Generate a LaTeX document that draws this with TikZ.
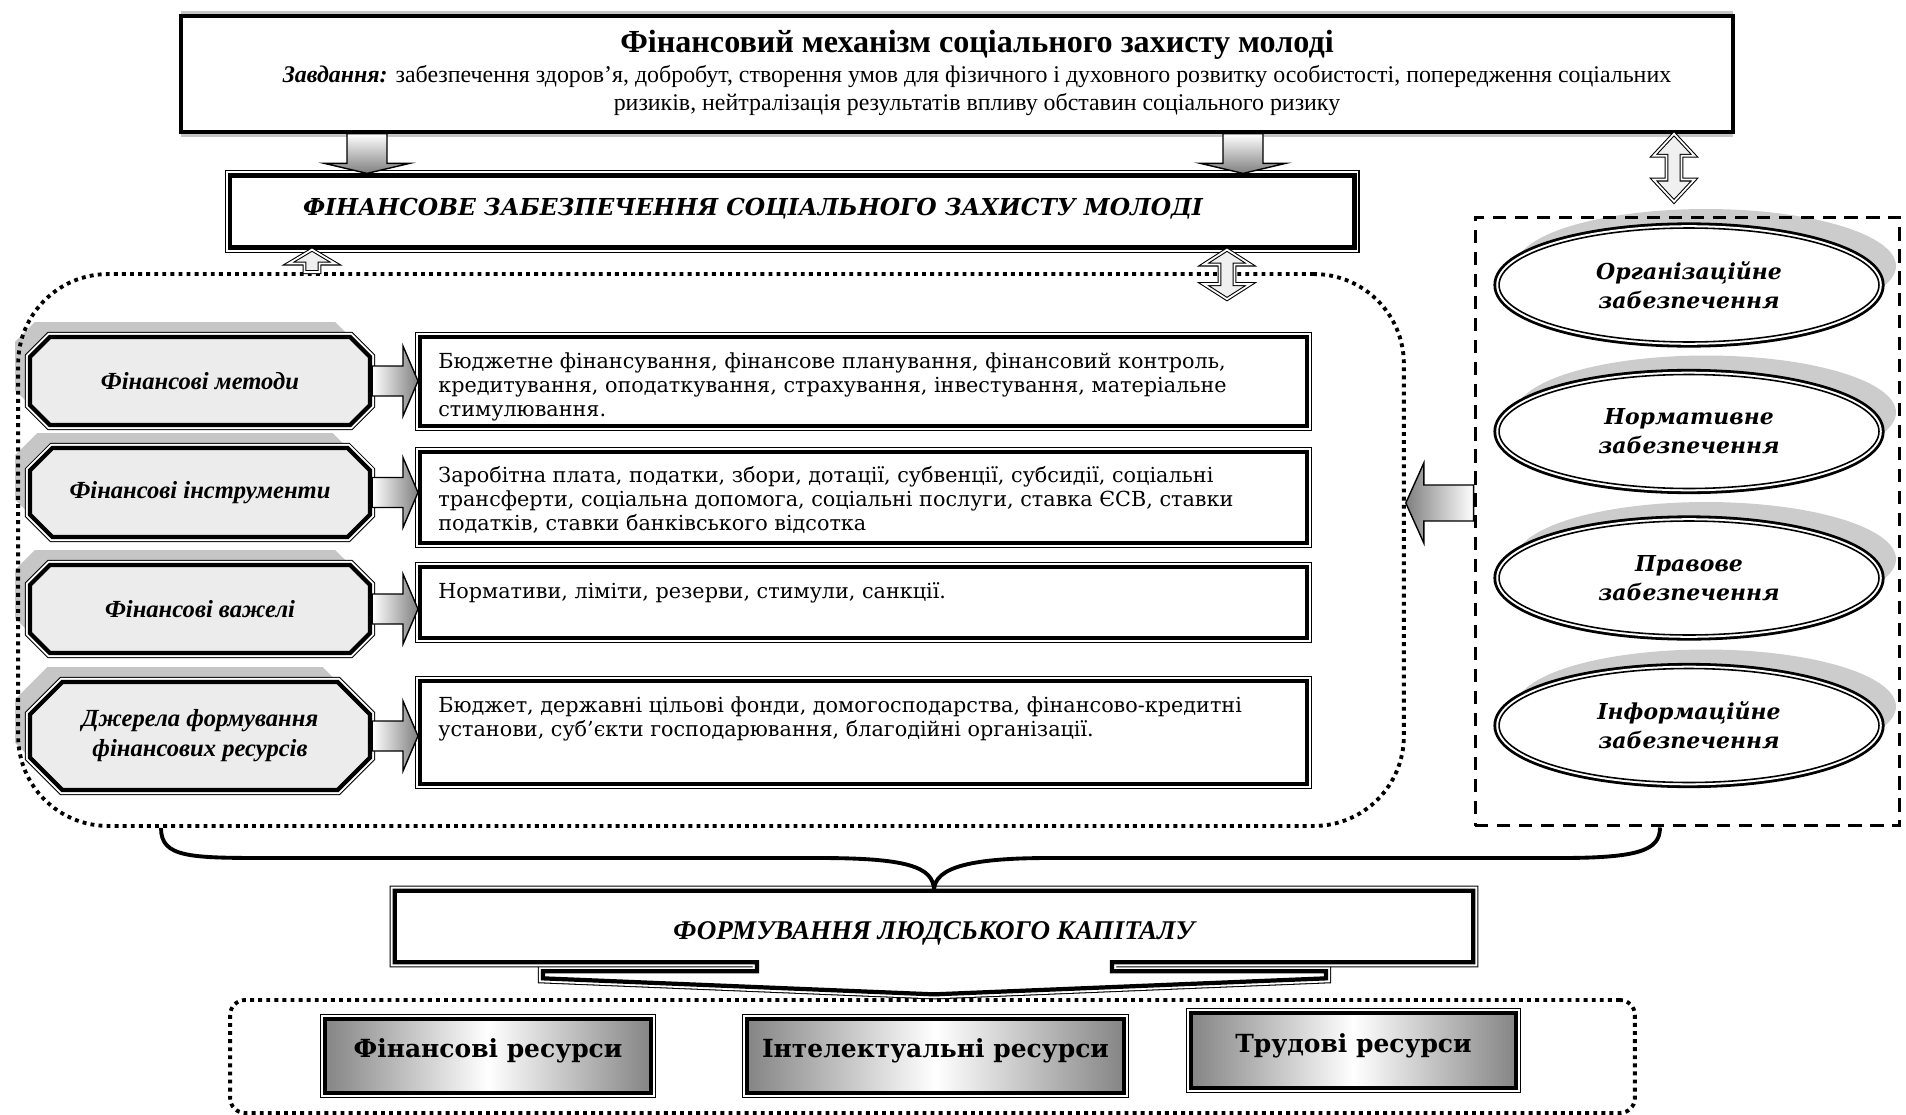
\documentclass[tikz,border=0pt]{standalone}
\usepackage{fontspec}
\setmainfont{Liberation Serif}
\newfontfamily\bookfont{DejaVu Serif}
\usetikzlibrary{calc,shapes.misc,shapes.geometric,backgrounds}

\begin{document}
\begin{tikzpicture}[>=latex, x=0.02cm, y=-0.02cm,
  rahmen/.style={preaction={draw, line width=5.8pt}, preaction={draw=white, line width=4.6pt}, fill=white, draw, line width=2.4pt},
  ovalrahmen/.style={preaction={fill=gray!40, transform canvas={shift={(0.34cm,0.38cm)}}}, preaction={draw, line width=6.4pt}, preaction={draw=white, line width=3.2pt}, fill=white, draw, line width=0.9pt},
  achteck/.style={chamfered rectangle, chamfered rectangle xsep=0.54cm, preaction={fill=gray!45, transform canvas={shift={(-0.3cm,0.3cm)}}}, rahmen, fill=gray!15, minimum width=6.8cm, align=center, font=\bfseries\itshape\fontsize{14}{17}\selectfont},
  textkasten/.style={rectangle, rahmen, minimum width=17.74cm},
  fliess/.style={anchor=north west, inner sep=0pt, align=left, font=\bookfont\fontsize{11.8}{13.7}\selectfont},
  oval/.style={ellipse, ovalrahmen, minimum width=7.6cm, minimum height=2.28cm, inner sep=0pt, align=center, font=\bookfont\bfseries\itshape\fontsize{12.5}{16.4}\selectfont},
  ressource/.style={rahmen, left color=black!48, right color=black!48, middle color=white, minimum height=1.48cm, text depth=0.3cm, font=\bookfont\bfseries\fontsize{14.2}{16}\selectfont},
  punktiert/.style={draw, line width=2.2pt, dash pattern=on 2.2pt off 2.4pt},
  pfeilgrau/.style={draw, line width=0.8pt, line join=miter},
  hohl/.style={draw, double, double distance=1pt, line width=0.6pt, fill=gray!12, line join=miter},
  pfeilform/.style args={#1/#2/#3}{to path={
    ($(\tikztostart)!#1!90:(\tikztotarget)$)
    -- ($(\tikztotarget)!#3!(\tikztostart)!#1!90:(\tikztotarget)$)
    -- ($(\tikztotarget)!#3!(\tikztostart)!#2!90:(\tikztotarget)$)
    -- (\tikztotarget)
    -- ($(\tikztotarget)!#3!(\tikztostart)!#2!-90:(\tikztotarget)$)
    -- ($(\tikztotarget)!#3!(\tikztostart)!#1!-90:(\tikztotarget)$)
    -- ($(\tikztostart)!#1!-90:(\tikztotarget)$) -- cycle}},
  doppelform/.style args={#1/#2/#3}{to path={
    (\tikztostart)
    -- ($(\tikztostart)!#3!(\tikztotarget)!#2!90:(\tikztotarget)$)
    -- ($(\tikztostart)!#3!(\tikztotarget)!#1!90:(\tikztotarget)$)
    -- ($(\tikztotarget)!#3!(\tikztostart)!#1!90:(\tikztotarget)$)
    -- ($(\tikztotarget)!#3!(\tikztostart)!#2!90:(\tikztotarget)$)
    -- (\tikztotarget)
    -- ($(\tikztotarget)!#3!(\tikztostart)!#2!-90:(\tikztotarget)$)
    -- ($(\tikztotarget)!#3!(\tikztostart)!#1!-90:(\tikztotarget)$)
    -- ($(\tikztostart)!#3!(\tikztotarget)!#1!-90:(\tikztotarget)$)
    -- ($(\tikztostart)!#3!(\tikztotarget)!#2!-90:(\tikztotarget)$)
    -- cycle}}]

\useasboundingbox (0,0) rectangle (1906,1115);

% oberer Kasten
\node[draw, line width=2.3pt, fill=white,
  preaction={fill=gray!45, transform canvas={yshift=0.1cm}},
  preaction={fill=gray!45, transform canvas={yshift=-0.1cm}},
  minimum width=31.04cm, minimum height=2.31cm] (oben) at (957,74) {};
\node[align=center, font=\fontsize{13.6}{16}\selectfont] (aufgabe) at (977,73)
  {{\fontsize{18.3}{19}\selectfont\bfseries Фінансовий механізм соціального захисту молоді}\\[1pt]
   \textbf{\textit{Завдання:}} забезпечення здоров’я, добробут, створення умов для фізичного і духовного розвитку особистості, попередження соціальних\\
   ризиків, нейтралізація результатів впливу обставин соціального ризику};

\node[rahmen, minimum width=22.5cm, minimum height=1.44cm, text depth=0.2cm,
  font=\bookfont\bfseries\itshape\fontsize{13.3}{16}\selectfont] (fin) at (792,211.5)
  {\hspace*{-1.56cm}ФІНАНСОВЕ ЗАБЕЗПЕЧЕННЯ СОЦІАЛЬНОГО ЗАХИСТУ МОЛОДІ};

\shadedraw[pfeilgrau, top color=white, bottom color=black!50] (oben.south -| 367,0) to[pfeilform=0.4cm/0.85cm/0.2cm] (fin.north -| 367,0);
\shadedraw[pfeilgrau, top color=white, bottom color=black!50] (oben.south -| 1243,0) to[pfeilform=0.4cm/0.85cm/0.2cm] (fin.north -| 1243,0);


% linke Spalte
\node[achteck, minimum height=1.76cm] (M1) at (200,381)   {Фінансові методи};
\node[achteck, minimum height=1.78cm] (M2) at (200,492.5) {Фінансові інструменти};
\node[achteck, minimum height=1.76cm] (M3) at (200,609)   {Фінансові важелі};
\node[achteck, minimum height=2.16cm] (M4) at (200,736)   {Джерела формування\\ фінансових ресурсів};

\node[textkasten, minimum height=1.78cm] (T1) at (863.5,381.5) {};
\node[textkasten, minimum height=1.82cm] (T2) at (863.5,497.5) {};
\node[textkasten, minimum height=1.42cm] (T3) at (863.5,602.5) {};
\node[textkasten, minimum height=2.06cm] (T4) at (863.5,732.5) {};

\node[fliess] (t1) at ($(T1.north west)+(20,17)$) {Бюджетне фінансування, фінансове планування, фінансовий контроль,\\ кредитування, оподаткування, страхування, інвестування, матеріальне\\ стимулювання.};
\node[fliess] (t2) at ($(T2.north west)+(20,16)$) {Заробітна плата, податки, збори, дотації, субвенції, субсидії, соціальні\\ трансферти, соціальна допомога, соціальні послуги, ставка ЄСВ, ставки\\ податків, ставки банківського відсотка};
\node[fliess] (t3) at ($(T3.north west)+(20,17)$) {Нормативи, ліміти, резерви, стимули, санкції.};
\node[fliess] (t4) at ($(T4.north west)+(20,17)$) {Бюджет, державні цільові фонди, домогосподарства, фінансово-кредитні\\ установи, суб’єкти господарювання, благодійні організації.};

\shadedraw[pfeilgrau, left color=white, right color=black!50] (M1.east) to[pfeilform=0.3cm/0.7cm/0.3cm] (T1.west |- M1.east);
\shadedraw[pfeilgrau, left color=white, right color=black!50] (M2.east) to[pfeilform=0.3cm/0.7cm/0.3cm] (T2.west |- M2.east);
\shadedraw[pfeilgrau, left color=white, right color=black!50] (M3.east) to[pfeilform=0.3cm/0.7cm/0.3cm] (T3.west |- M3.east);
\shadedraw[pfeilgrau, left color=white, right color=black!50] (M4.east) to[pfeilform=0.3cm/0.7cm/0.3cm] (T4.west |- M4.east);

\node[punktiert, rounded corners=1.8cm, minimum width=27.72cm, minimum height=11.04cm] (cont) at (711,550) {};


% rechte Spalte
\node[oval] (E1) at (1689,285)   {Організаційне\\ забезпечення};
\node[oval] (E2) at (1689,431.5) {Нормативне\\ забезпечення};
\node[oval] (E3) at (1689,578)   {Правове\\ забезпечення};
\node[oval] (E4) at (1689,725.5) {Інформаційне\\ забезпечення};

\node[draw, line width=1.7pt, dash pattern=on 7.5pt off 5pt, minimum width=8.5cm, minimum height=12.18cm] (zus) at (1687.5,521.5) {};

\shadedraw[pfeilgrau, left color=black!50, right color=white] (zus.west |- 0,503) to[pfeilform=0.36cm/0.8cm/0.36cm] (cont.east |- 0,503);


% hohle Pfeile
\coordinate (c1) at ($(cont.north -| 1227,0)+(0,27)$);
\coordinate (c2) at ($(zus.north -| 1674,0)+(0,-14)$);
\filldraw[hohl] (fin.south -| 1227,0) to[doppelform=0.15cm/0.47cm/0.3cm] (c1);
\filldraw[hohl] (cont.north -| 312,0) to[pfeilform=0.15cm/0.47cm/0.28cm] (fin.south -| 312,0);
\filldraw[hohl] (oben.south -| 1674,0) to[doppelform=0.15cm/0.41cm/0.44cm] (c2);


% Humankapital
\node[minimum width=21.56cm, minimum height=1.42cm, text height=0.62cm, font=\bfseries\itshape\fontsize{15.4}{18}\selectfont] (kap) at (934,926.5) {ФОРМУВАННЯ ЛЮДСЬКОГО КАПІТАЛУ};
\begin{scope}[on background layer]
\draw[rahmen] (kap.north west) -- (kap.north east) -- (kap.south east) -- ($(kap.south)+(178,0)$) -- ++(0,9) -- ++(214,0) -- ++(0,7)
  -- ($(kap.south)+(0,32)$) -- ($(kap.south)+(-391,16)$) -- ++(0,-7) -- ++(214,0) -- ++(0,-9) -- (kap.south west) -- cycle;
\end{scope}

\draw[line width=2.2pt] (cont.south -| 161,0) .. controls (161,858) and (190,858) .. (273,858) -- (818,858)
  .. controls (905,858) and (934,866) .. (kap.north) .. controls (934,866) and (975,858) .. (1050,858) -- (1560,858)
  .. controls (1640,858) and (1660,850) .. (zus.south -| 1660,0);


% untere Reihe
\node[punktiert, rounded corners=0.3cm, minimum width=28.1cm, minimum height=2.26cm] (unten) at (932.5,1056.5) {};
\node[ressource, minimum width=6.52cm] (R1) at (488,1056) {Фінансові ресурси};
\node[ressource, minimum width=7.54cm] (R2) at (935.5,1056) {Інтелектуальні ресурси};
\node[ressource, minimum width=6.5cm, minimum height=1.5cm] (R3) at (1353.5,1050.5) {Трудові ресурси};

\end{tikzpicture}
\end{document}
